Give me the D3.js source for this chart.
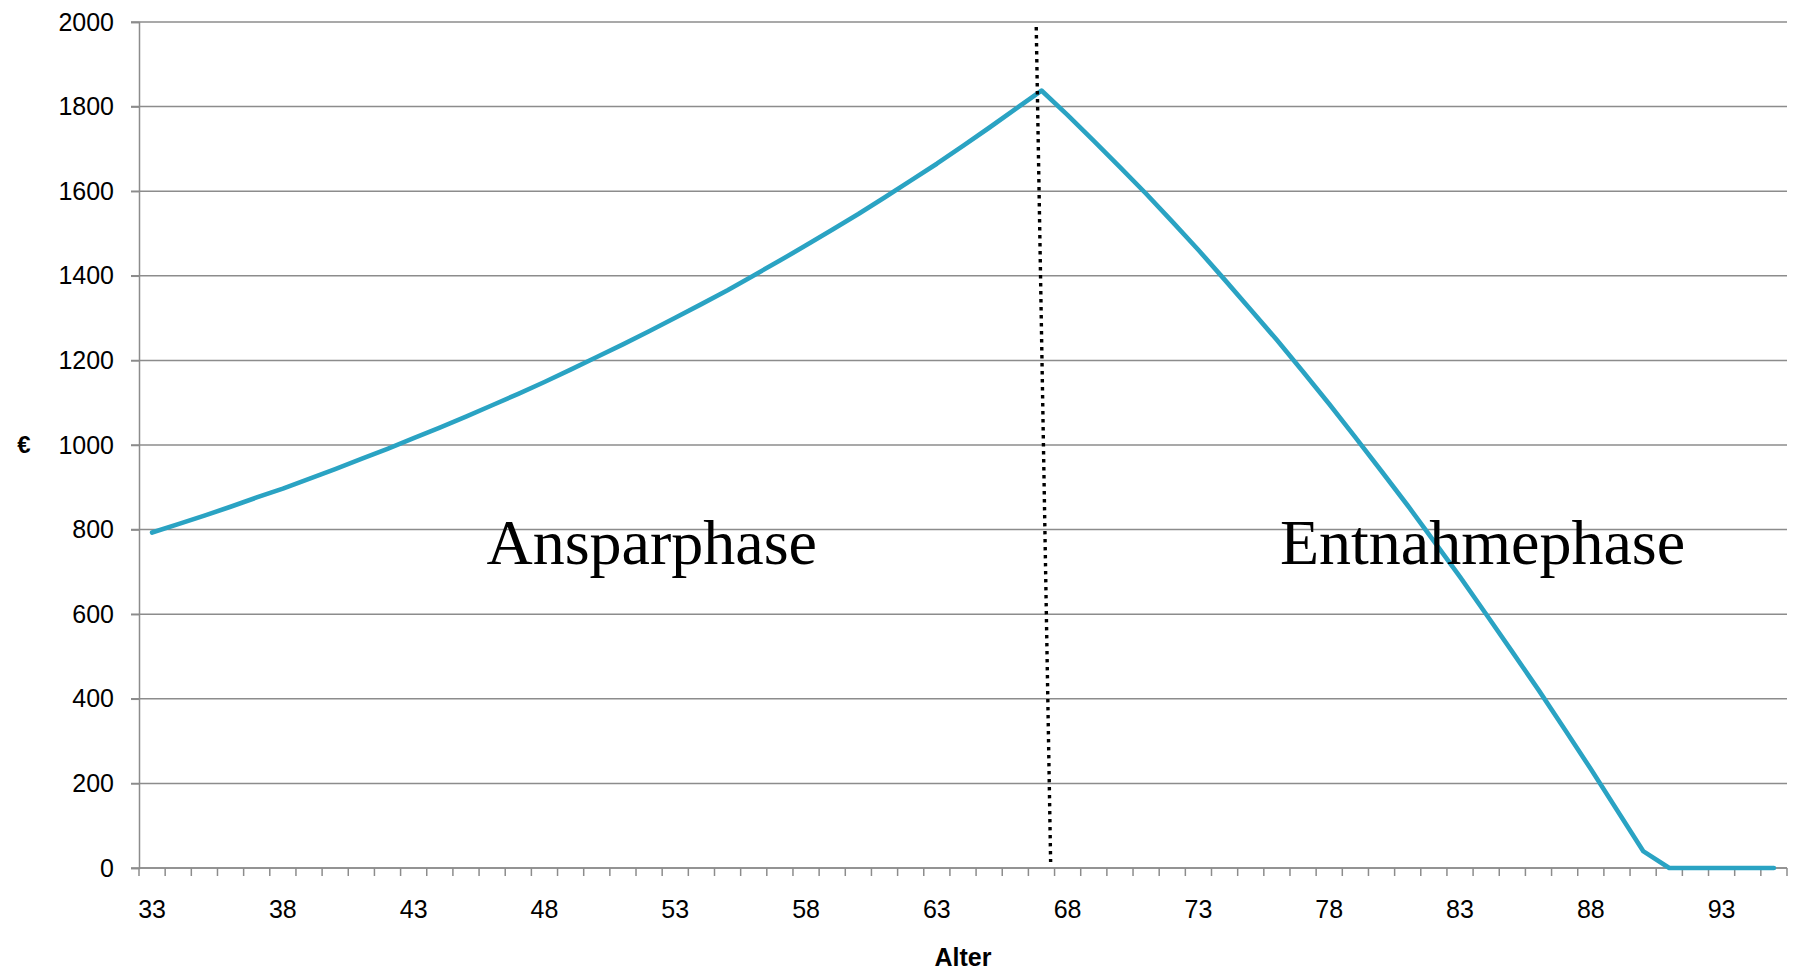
<!DOCTYPE html>
<html>
<head>
<meta charset="utf-8">
<script src="https://cdn.jsdelivr.net/npm/d3@7"></script>
<style>
  body { margin: 0; background: #fff; }
  text { font-family: 'Liberation Sans', Arial, sans-serif; }
</style>
</head>
<body>
<div id="chart"></div>
<script>
// ages on the category axis
var ages = d3.range(33, 96)

// capital in euro, one value per age
var savingValues = [793, 813, 833, 854, 876, 897, 920, 943, 967, 991,
  1016, 1041, 1067, 1094, 1121, 1149, 1178, 1208, 1238, 1269,
  1301, 1333, 1366, 1401, 1436, 1472, 1509, 1546, 1585, 1625,
  1665, 1707, 1750, 1794, 1838]
var withdrawalValues = [1780, 1719, 1657, 1594, 1528, 1461, 1391, 1320,
  1248, 1173, 1097, 1018, 938, 857, 773, 688, 600, 511, 421, 328,
  234, 137, 40, 0, 0, 0, 0, 0]
var values = savingValues.concat(withdrawalValues)

var yTicks = [0, 200, 400, 600, 800, 1000, 1200, 1400, 1600, 1800, 2000]
var xTickLabels = [33, 38, 43, 48, 53, 58, 63, 68, 73, 78, 83, 88, 93]

// dotted divider between the two phases: [age, euro]
var divider = [[66.8, 1988], [67.35, 14]]

// phase labels: [text, age, euro]
var phaseLabels = [['Ansparphase', 52.1, 718], ['Entnahmephase', 83.86, 718]]

var svgWidth = 1794
var svgHeight = 970
var margin = { top: 22, right: 7, bottom: 102, left: 139 }
var width = svgWidth - margin.left - margin.right
var height = svgHeight - margin.top - margin.bottom

var svg = d3.select('#chart')
  .append('svg')
  .attr('width', svgWidth)
  .attr('height', svgHeight)

var chartGroup = svg.append('g')
  .attr('transform', `translate(${margin.left}, ${margin.top})`)

var xBand = d3.scaleBand()
  .domain(ages)
  .range([0, width])

// continuous version of the band scale, centred on each band
var xAge = d3.scaleLinear()
  .domain([33 - 0.5, 95 + 0.5])
  .range([0, width])

var yScale = d3.scaleLinear()
  .domain([0, 2000])
  .range([height, 0])

var gridColor = '#8c8c8c'

// horizontal grid lines
chartGroup.append('g')
  .selectAll('line')
  .data(yTicks)
  .enter()
  .append('line')
  .attr('x1', -8)
  .attr('x2', width)
  .attr('y1', d => yScale(d))
  .attr('y2', d => yScale(d))
  .attr('stroke', gridColor)
  .attr('stroke-width', 1.5)

// y axis
var leftAxis = d3.axisLeft(yScale)
  .tickValues(yTicks)
  .tickSize(8)
  .tickPadding(17)
  .tickFormat(d3.format('d'))

var yAxisGroup = chartGroup.append('g').call(leftAxis)
yAxisGroup.select('.domain').attr('stroke', gridColor).attr('stroke-width', 1.5)
yAxisGroup.selectAll('.tick line').attr('stroke', gridColor).attr('stroke-width', 1.5)
yAxisGroup.selectAll('text')
  .style('font-size', '25px')
  .style('font-family', "'Liberation Sans', Arial, sans-serif")
  .attr('fill', '#000')

// x axis: ticks on the band edges, labels every fifth age
var edges = ages.map(a => xBand(a)).concat([width])
var xAxisGroup = chartGroup.append('g')
  .attr('transform', `translate(0, ${height})`)

xAxisGroup.append('line')
  .attr('x1', 0)
  .attr('x2', width)
  .attr('stroke', gridColor)
  .attr('stroke-width', 1.5)

xAxisGroup.selectAll('.edge')
  .data(edges)
  .enter()
  .append('line')
  .attr('class', 'edge')
  .attr('x1', d => d)
  .attr('x2', d => d)
  .attr('y1', 0)
  .attr('y2', 8)
  .attr('stroke', gridColor)
  .attr('stroke-width', 1.5)

xAxisGroup.selectAll('.xlabel')
  .data(xTickLabels)
  .enter()
  .append('text')
  .attr('class', 'xlabel')
  .attr('x', d => xBand(d) + xBand.bandwidth() / 2)
  .attr('y', 50)
  .attr('text-anchor', 'middle')
  .style('font-size', '25px')
  .text(d => d)

// capital line
var line = d3.line()
  .x((d, i) => xBand(ages[i]) + xBand.bandwidth() / 2)
  .y(d => yScale(d))

chartGroup.append('path')
  .datum(values)
  .attr('d', line)
  .attr('fill', 'none')
  .attr('stroke', '#2aa3c3')
  .attr('stroke-width', 4.6)
  .attr('stroke-linejoin', 'round')
  .attr('stroke-linecap', 'round')

// dotted divider
chartGroup.append('line')
  .attr('x1', xAge(divider[0][0]))
  .attr('y1', yScale(divider[0][1]))
  .attr('x2', xAge(divider[1][0]))
  .attr('y2', yScale(divider[1][1]))
  .attr('stroke', '#000')
  .attr('stroke-width', 3.4)
  .attr('stroke-dasharray', '3.4 4.6')

// phase labels
chartGroup.selectAll('.phase')
  .data(phaseLabels)
  .enter()
  .append('text')
  .attr('class', 'phase')
  .attr('x', d => xAge(d[1]))
  .attr('y', d => yScale(d[2]))
  .attr('text-anchor', 'middle')
  .style('font-family', "'Liberation Serif', 'Times New Roman', serif")
  .style('font-size', '64px')
  .text(d => d[0])

// axis titles
svg.append('text')
  .attr('x', 24)
  .attr('y', margin.top + height / 2)
  .attr('dy', '0.35em')
  .attr('text-anchor', 'middle')
  .style('font-size', '24px')
  .style('font-weight', 'bold')
  .text('€')

svg.append('text')
  .attr('x', margin.left + width / 2)
  .attr('y', 966)
  .attr('text-anchor', 'middle')
  .style('font-size', '25px')
  .style('font-weight', 'bold')
  .text('Alter')
</script>
</body>
</html>
